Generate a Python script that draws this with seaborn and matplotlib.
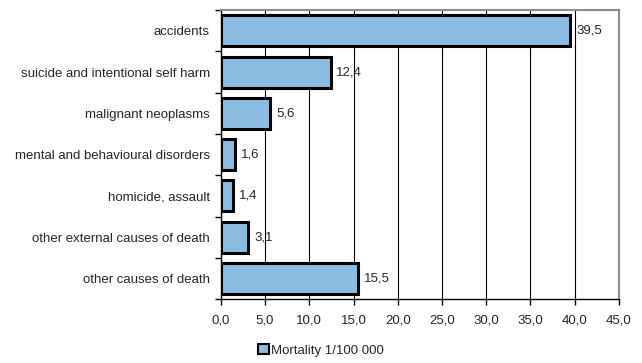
import pandas as pd
import seaborn as sns
import matplotlib.pyplot as plt
from matplotlib.patches import Patch

# Mortality data
causes = [
    "accidents",
    "suicide and intentional self harm",
    "malignant neoplasms",
    "mental and behavioural disorders",
    "homicide, assault",
    "other external causes of death",
    "other causes of death",
]
mortality = [39.5, 12.4, 5.6, 1.6, 1.4, 3.1, 15.5]
xticks = [0, 5, 10, 15, 20, 25, 30, 35, 40, 45]

df = pd.DataFrame({"cause": causes, "mortality": mortality})

sns.set_style("white")
plt.rcParams['font.family'] = ['Liberation Sans', 'DejaVu Sans']
fs = 9.5

fig = plt.figure(figsize=(6.42, 3.63), dpi=100)
ax = fig.add_axes([0.344, 0.176, 0.62, 0.796])

sns.barplot(data=df, x="mortality", y="cause", orient="h", color="#8bbce2",
            edgecolor="black", linewidth=2.2, width=0.75, saturation=1, ax=ax, zorder=3)

ax.set_xlim(0, 45)
ax.set_xticks(xticks)
ax.set_xticklabels([f"{t:.1f}".replace(".", ",") for t in xticks], fontsize=fs)
ax.tick_params(axis="y", labelsize=fs, length=0, pad=8)
ax.tick_params(axis="x", length=4, width=1, direction="out", color="black", bottom=True, pad=7)
ax.set_xlabel("")
ax.set_ylabel("")

# category separator ticks on the left
ax.set_yticks([i - 0.5 for i in range(len(causes) + 1)], minor=True)
ax.tick_params(axis="y", which="minor", length=4, width=1, direction="out", left=True, color="black")

ax.grid(axis="x", color="black", linewidth=0.8, zorder=0)
ax.set_axisbelow(True)
for side in ["left", "bottom"]:
    ax.spines[side].set_color("black")
    ax.spines[side].set_linewidth(1)
for side in ["top", "right"]:
    ax.spines[side].set_color("#8c8c8c")
    ax.spines[side].set_linewidth(1.5)

for i, v in enumerate(mortality):
    ax.text(v + 0.65, i, f"{v:.1f}".replace(".", ","), va="center", ha="left", fontsize=fs)

handle = Patch(facecolor="#8bbce2", edgecolor="black", linewidth=1.5, label="Mortality 1/100 000")
fig.legend(handles=[handle], loc="center", bbox_to_anchor=(0.5, 0.035), frameon=False,
           fontsize=fs, handlelength=0.8, handleheight=0.8, handletextpad=0.2)

fig.savefig("out.png", dpi=100)
